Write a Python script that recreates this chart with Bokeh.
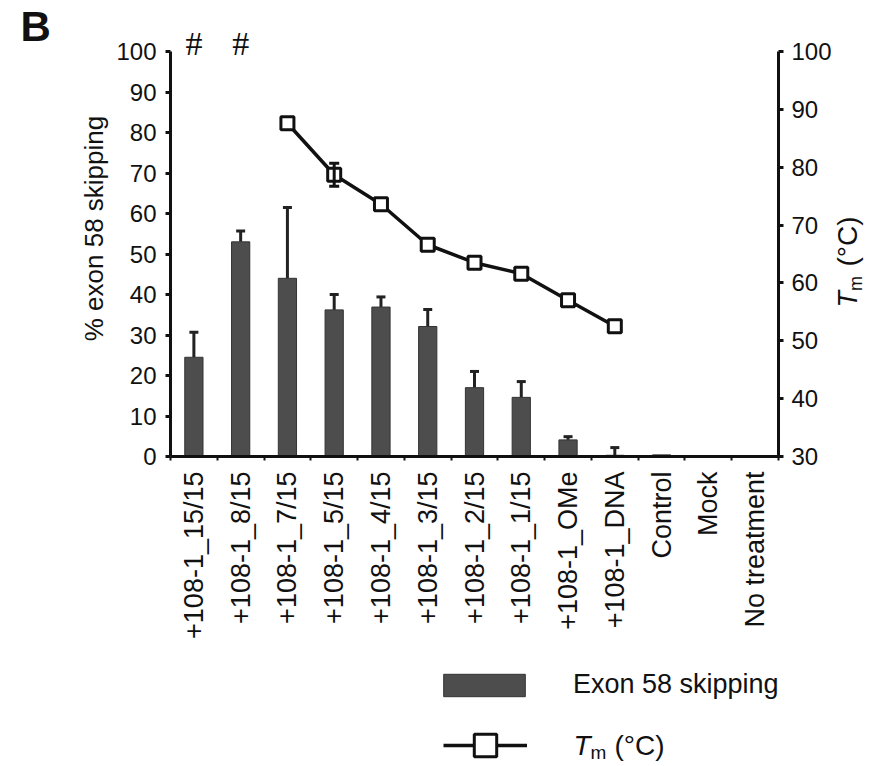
import math
from bokeh.plotting import figure
from bokeh.models import (ColumnDataSource, Range1d, LinearAxis, FixedTicker,
                          Whisker, TeeHead, Legend, LegendItem, Label, LabelSet)
from bokeh.embed import file_html
from bokeh.resources import INLINE

# ---------------- data ----------------
categories = ["+108-1_15/15", "+108-1_8/15", "+108-1_7/15", "+108-1_5/15", "+108-1_4/15",
              "+108-1_3/15", "+108-1_2/15", "+108-1_1/15", "+108-1_OMe", "+108-1_DNA",
              "Control", "Mock", "No treatment"]
skipping = [24.5, 53.0, 44.0, 36.2, 36.9, 32.1, 17.0, 14.6, 4.1, 0.3, 0.4, 0.0, 0.0]
skipping_err = [6.2, 2.7, 17.5, 3.8, 2.5, 4.2, 4.0, 3.9, 0.8, 1.9, 0.0, 0.0, 0.0]

tm_categories = ["+108-1_7/15", "+108-1_5/15", "+108-1_4/15", "+108-1_3/15",
                 "+108-1_2/15", "+108-1_1/15", "+108-1_OMe", "+108-1_DNA"]
tm_values = [87.6, 78.7, 73.6, 66.6, 63.5, 61.6, 57.0, 52.5]
tm_err = [0.0, 2.0, 0.0, 0.0, 0.0, 0.0, 0.0, 0.0]

significant = ["+108-1_15/15", "+108-1_8/15"]

left_ticks = [0, 10, 20, 30, 40, 50, 60, 70, 80, 90, 100]
right_ticks = [30, 40, 50, 60, 70, 80, 90, 100]

# ---------------- layout constants (pixels) ----------------
W, H = 880, 764
AX_LEFT, AX_RIGHT, AX_TOP, AX_BOTTOM = 170, 778, 51, 456
Y_LO, Y_HI = left_ticks[0], left_ticks[-1]
T_LO, T_HI = right_ticks[0], right_ticks[-1]

n = len(categories)
px_x = (AX_RIGHT - AX_LEFT) / n
px_y = (AX_BOTTOM - AX_TOP) / (Y_HI - Y_LO)
x_start = -AX_LEFT / px_x
x_end = n + (W - AX_RIGHT) / px_x
y_start = Y_LO - (H - AX_BOTTOM) / px_y
y_end = Y_HI + AX_TOP / px_y
k = (T_HI - T_LO) / (Y_HI - Y_LO)

pos = {c: i + 0.5 for i, c in enumerate(categories)}

FONT = "Liberation Sans"
BAR_FILL = "#4d4d4d"
INK = "#111111"

# ---------------- figure ----------------
p = figure(width=W, height=H, title=None,
           x_range=Range1d(x_start, x_end), y_range=Range1d(y_start, y_end),
           x_axis_location=None, y_axis_location=None,
           output_backend="svg", toolbar_location=None, min_border=0)
p.extra_y_ranges = {"tm": Range1d(T_LO + k * (y_start - Y_LO), T_LO + k * (y_end - Y_LO))}
p.outline_line_color = None
p.grid.visible = False
p.background_fill_color = "white"
p.border_fill_color = "white"

# bars
bar_src = ColumnDataSource(dict(x=[pos[c] for c in categories], val=skipping))
bars = p.vbar(x="x", top="val", bottom=0, width=0.39, source=bar_src,
              fill_color=BAR_FILL, line_color="#333333", line_width=1)

# bar error bars (upper only)
e_x = [pos[c] for c, e in zip(categories, skipping_err) if e > 0]
e_low = [v for v, e in zip(skipping, skipping_err) if e > 0]
e_up = [v + e for v, e in zip(skipping, skipping_err) if e > 0]
err_src = ColumnDataSource(dict(x=e_x, lower=e_low, upper=e_up))
p.add_layout(Whisker(source=err_src, base="x", lower="lower", upper="upper",
                     dimension="height", line_width=3, line_color="#222222",
                     lower_head=None,
                     upper_head=TeeHead(size=9, line_width=3, line_color="#222222")))

# Tm line
tm_src = ColumnDataSource(dict(x=[pos[c] for c in tm_categories], tm=tm_values))
tm_line = p.line(x="x", y="tm", source=tm_src, y_range_name="tm",
                 line_width=3.5, line_color=INK)

te_x = [pos[c] for c, e in zip(tm_categories, tm_err) if e > 0]
te_low = [v - e for v, e in zip(tm_values, tm_err) if e > 0]
te_up = [v + e for v, e in zip(tm_values, tm_err) if e > 0]
tm_err_src = ColumnDataSource(dict(x=te_x, lower=te_low, upper=te_up))
p.add_layout(Whisker(source=tm_err_src, base="x", lower="lower", upper="upper",
                     dimension="height", y_range_name="tm", line_width=3,
                     line_color=INK, level="glyph",
                     lower_head=TeeHead(size=10, line_width=3, line_color=INK),
                     upper_head=TeeHead(size=10, line_width=3, line_color=INK)))

tm_pts = p.scatter(x="x", y="tm", source=tm_src, y_range_name="tm",
                   marker="square", size=13, fill_color="white",
                   line_color=INK, line_width=3)

# significance marks
sig_src = ColumnDataSource(dict(x=[pos[c] for c in significant],
                                y=[Y_HI] * len(significant),
                                txt=["#"] * len(significant)))
p.add_layout(LabelSet(source=sig_src, x="x", y="y", text="txt",
                      text_align="center", text_baseline="middle",
                      y_offset=8, text_font=FONT, text_font_size="34px",
                      text_color=INK))

# ---------------- axes ----------------
xa = LinearAxis(fixed_location=Y_LO, bounds=(0, n),
                ticker=FixedTicker(ticks=[pos[c] for c in categories],
                                   minor_ticks=list(range(n + 1))))
xa.major_label_overrides = {pos[c]: c for c in categories}
xa.major_label_orientation = math.pi / 2
xa.major_label_text_font = FONT
xa.major_label_text_font_size = "27px"
xa.major_label_text_color = INK
xa.major_label_standoff = 11
xa.major_tick_out = 0
xa.major_tick_in = 0
xa.major_tick_line_color = None
xa.minor_tick_out = 4
xa.minor_tick_in = 0
xa.minor_tick_line_width = 2
xa.minor_tick_line_color = INK
xa.axis_line_width = 3
xa.axis_line_color = INK
p.add_layout(xa, "below")

ya = LinearAxis(fixed_location=0, bounds=(Y_LO, Y_HI), ticker=FixedTicker(ticks=left_ticks))
ya.minor_tick_line_color = None
ya.major_tick_in = 0
ya.major_tick_out = 5
ya.major_tick_line_width = 3
ya.major_tick_line_color = INK
ya.axis_line_width = 3
ya.axis_line_color = INK
ya.major_label_text_font = FONT
ya.major_label_text_font_size = "24px"
ya.major_label_text_color = INK
ya.major_label_standoff = 9
p.add_layout(ya, "left")

ra = LinearAxis(fixed_location=n, y_range_name="tm", bounds=(T_LO, T_HI),
                ticker=FixedTicker(ticks=right_ticks))
ra.minor_tick_line_color = None
ra.major_tick_in = 0
ra.major_tick_out = 5
ra.major_tick_line_width = 3
ra.major_tick_line_color = INK
ra.axis_line_width = 3
ra.axis_line_color = INK
ra.major_label_text_font = FONT
ra.major_label_text_font_size = "24px"
ra.major_label_text_color = INK
ra.major_label_standoff = 8
p.add_layout(ra, "right")

# ---------------- texts in screen units ----------------
MID = 0.35  # distance (in em) from the alphabetic baseline up to the em-box middle


def lab(x, y_base, text, size, style="normal", angle=0.0, align="left"):
    """x, y_base: position of the text baseline in page pixels (from top-left)."""
    if angle == 0.0:
        xs, ys = x, H - (y_base - MID * size)
    else:  # rotated 90° counter-clockwise: the baseline is a vertical line at x
        xs, ys = x - MID * size, H - y_base
    return Label(x=xs, y=ys, x_units="screen", y_units="screen", text=text,
                 angle=angle, text_font=FONT, text_font_size=f"{size}px",
                 text_font_style=style, text_color=INK,
                 text_align=align, text_baseline="middle")


R = math.pi / 2
# left axis title
p.add_layout(lab(103, 228, "% exon 58 skipping", 26, "normal", R, "center"))
# right axis title  T_m (°C)
p.add_layout(lab(857, 307, "T", 27, "italic", R))
p.add_layout(lab(862, 290.5, "m", 18, "normal", R))
p.add_layout(lab(857, 266, "(°C)", 28, "normal", R))

# panel letter
p.add_layout(lab(20, 41, "B", 42, "bold"))

# ---------------- legend ----------------
leg1 = Legend(items=[LegendItem(label="Exon 58 skipping", renderers=[bars])],
              location=(433, H - 700), glyph_width=102, glyph_height=28,
              label_text_font=FONT, label_text_font_size="27px",
              label_text_color=INK, label_standoff=38,
              padding=0, margin=0, spacing=0,
              border_line_color=None, background_fill_alpha=0)
p.add_layout(leg1)

leg2 = Legend(items=[LegendItem(label=" ", renderers=[tm_line, tm_pts])],
              location=(443, H - 773), glyph_width=84, glyph_height=56,
              label_text_font=FONT, label_text_font_size="10px",
              label_standoff=0, padding=0, margin=0, spacing=0,
              border_line_color=None, background_fill_alpha=0)
p.add_layout(leg2)

p.add_layout(lab(573, 755, "T", 28, "italic"))
p.add_layout(lab(590, 759, "m", 19))
p.add_layout(lab(614, 755, "(°C)", 28))

open("out.html", "w").write(file_html(p, INLINE, title="Exon 58 skipping"))
